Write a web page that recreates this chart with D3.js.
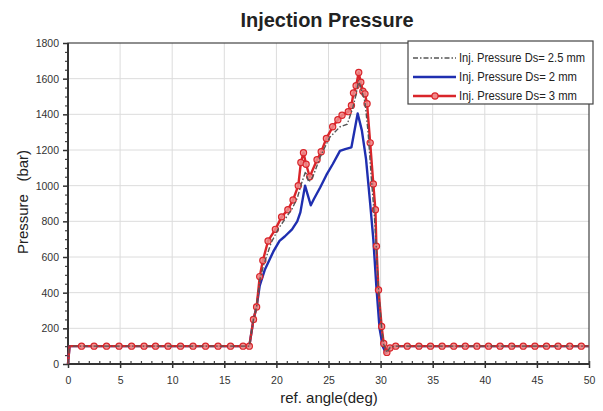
<!DOCTYPE html>
<html>
<head>
<meta charset="utf-8">
<script src="https://cdn.jsdelivr.net/npm/d3@7"></script>
<style>
  html, body { margin: 0; padding: 0; background: #fff; }
  svg { display: block; font-family: "Liberation Sans", Arial, sans-serif; }
</style>
</head>
<body>
<svg id="chart" width="603" height="411"></svg>
<script>
// Injection pressure vs reference crank angle for three nozzle sizes
const xTicks = [0, 5, 10, 15, 20, 25, 30, 35, 40, 45, 50];
const yTicks = [0, 200, 400, 600, 800, 1000, 1200, 1400, 1600, 1800];

const seriesNames = ["Inj. Pressure Ds= 2.5 mm", "Inj. Pressure Ds= 2 mm", "Inj. Pressure Ds= 3 mm"];

// Ds = 2.5 mm
const angle25 = [0, 0.15, 17.4, 17.8, 18.1, 18.4, 18.8, 19.5, 20.2, 20.8, 21.5, 22.0, 22.4, 22.8, 23.1, 23.5, 24.2, 25.1, 26.1, 26.8, 27.3, 27.6, 27.9, 28.2, 28.5, 28.8, 29.1, 29.4, 29.6, 29.8, 30.1, 30.3, 30.6, 30.9, 31.4, 50];
const press25 = [0, 100, 100, 250, 320, 470, 560, 680, 760, 810, 870, 930, 1010, 1080, 1020, 1050, 1160, 1270, 1330, 1345, 1430, 1500, 1590, 1530, 1470, 1300, 1050, 830, 640, 420, 200, 110, 65, 92, 100, 100];

// Ds = 2 mm
const angle2 = [0, 0.15, 17.4, 17.8, 18.1, 18.4, 18.9, 19.7, 20.3, 20.8, 21.5, 22.0, 22.3, 22.75, 23.0, 23.3, 23.6, 24.2, 24.8, 25.4, 26.1, 26.6, 27.2, 27.8, 28.2, 28.6, 29.0, 29.3, 29.6, 29.9, 30.2, 30.5, 30.9, 31.4, 50];
const press2 = [0, 100, 100, 250, 320, 440, 530, 630, 690, 715, 755, 800, 850, 1000, 950, 890, 925, 990, 1060, 1120, 1195, 1205, 1215, 1405, 1310, 1150, 900, 700, 430, 200, 100, 62, 95, 100, 100];

// Ds = 3 mm (marked series)
const angle3 = [0, 0.15, 1.3, 2.5, 3.7, 4.9, 6.1, 7.3, 8.4, 9.6, 10.8, 12.0, 13.2, 14.4, 15.6, 16.8, 17.4, 17.8, 18.1, 18.4, 18.7, 19.2, 19.9, 20.5, 21.1, 21.6, 22.1, 22.35, 22.6, 22.85, 23.2, 23.9, 24.3, 24.8, 25.4, 25.9, 26.3, 26.9, 27.2, 27.4, 27.65, 27.9, 28.1, 28.3, 28.5, 28.7, 29.0, 29.3, 29.5, 29.6, 29.8, 30.1, 30.3, 30.6, 30.9, 31.45, 32.56, 33.68, 34.79, 35.9, 37.02, 38.13, 39.24, 40.36, 41.47, 42.58, 43.69, 44.81, 45.92, 47.03, 48.15, 49.26, 50];
const press3 = [0, 100, 100, 100, 100, 100, 100, 100, 100, 100, 100, 100, 100, 100, 100, 100, 100, 250, 320, 490, 580, 690, 755, 825, 865, 920, 1000, 1130, 1185, 1120, 1050, 1145, 1190, 1265, 1330, 1370, 1395, 1415, 1450, 1520, 1560, 1635, 1580, 1530, 1515, 1460, 1240, 1010, 865, 660, 415, 210, 115, 65, 90, 100, 100, 100, 100, 100, 100, 100, 100, 100, 100, 100, 100, 100, 100, 100, 100, 100, 100];

const svg = d3.select("#chart");
const x = d3.scaleLinear().domain([0, 50]).range([68, 589]);
const y = d3.scaleLinear().domain([0, 1800]).range([364, 43]);

// grid
svg.append("g").selectAll("line").data(xTicks.slice(1, -1)).join("line")
  .attr("x1", d => x(d)).attr("x2", d => x(d)).attr("y1", y(0)).attr("y2", y(1800))
  .attr("stroke", "#dcdcdc").attr("stroke-width", 1);
svg.append("g").selectAll("line").data(yTicks.slice(1, -1)).join("line")
  .attr("x1", x(0)).attr("x2", x(50)).attr("y1", d => y(d)).attr("y2", d => y(d))
  .attr("stroke", "#dcdcdc").attr("stroke-width", 1);

// axes
const xAxis = svg.append("g").attr("transform", `translate(0,${y(0)})`)
  .call(d3.axisBottom(x).tickValues(xTicks).tickSize(4).tickPadding(9).tickFormat(d3.format("d")));
const xMinor = svg.append("g").attr("transform", `translate(0,${y(0)})`)
  .call(d3.axisBottom(x).tickValues(d3.range(0, 51, 1).filter(v => v % 5 !== 0)).tickSize(-3).tickFormat(""));
const yAxis = svg.append("g").attr("transform", `translate(${x(0)},0)`)
  .call(d3.axisLeft(y).tickValues(yTicks).tickSize(5).tickPadding(4).tickFormat(d3.format("d")));
const yMinor = svg.append("g").attr("transform", `translate(${x(0)},0)`)
  .call(d3.axisLeft(y).tickValues(d3.range(0, 1801, 50).filter(v => v % 200 !== 0)).tickSize(3).tickFormat(""));

[xAxis, yAxis].forEach(g => {
  g.select(".domain").remove();
  g.selectAll(".tick line").attr("stroke", "#333").attr("stroke-width", 1.5);
  g.selectAll(".tick text").attr("fill", "#333").attr("font-size", 10.5);
});
xAxis.selectAll(".tick line").attr("y1", -3);
[xMinor, yMinor].forEach(g => {
  g.select(".domain").remove();
  g.selectAll(".tick line").attr("stroke", "#444").attr("stroke-width", 1.2);
});

// frame
svg.append("rect").attr("x", x(0)).attr("y", y(1800))
  .attr("width", x(50) - x(0)).attr("height", y(0) - y(1800))
  .attr("fill", "none").attr("stroke", "#444").attr("stroke-width", 1.2);
svg.append("line").attr("x1", x(0)).attr("x2", x(0)).attr("y1", y(0)).attr("y2", y(1800))
  .attr("stroke", "#333").attr("stroke-width", 2);
svg.append("line").attr("x1", x(0)).attr("x2", x(50)).attr("y1", y(0)).attr("y2", y(0))
  .attr("stroke", "#333").attr("stroke-width", 2);

// series
const line = d3.line().x(d => x(d[0])).y(d => y(d[1]));
const pts = (a, p) => a.map((v, i) => [v, p[i]]);

const red = "#d9252a";
svg.append("path").datum(pts(angle2, press2)).attr("d", line)
  .attr("fill", "none").attr("stroke", "#1f2fb0").attr("stroke-width", 2.4).attr("stroke-linejoin", "round");
svg.append("path").datum(pts(angle3, press3)).attr("d", line)
  .attr("fill", "none").attr("stroke", red).attr("stroke-width", 2.4).attr("stroke-linejoin", "round");
svg.append("g").selectAll("circle").data(pts(angle3, press3).slice(2, -1)).join("circle")
  .attr("cx", d => x(d[0])).attr("cy", d => y(d[1])).attr("r", 3.1)
  .attr("fill", "#f08a8a").attr("fill-opacity", 0.85).attr("stroke", red).attr("stroke-width", 1.2);
svg.append("path").datum(pts(angle25, press25)).attr("d", line)
  .attr("fill", "none").attr("stroke", "#555").attr("stroke-width", 1.4)
  .attr("stroke-dasharray", "5,2,1.5,2");

// legend
const lg = svg.append("g");
lg.append("rect").attr("x", 408).attr("y", 41).attr("width", 185).attr("height", 63)
  .attr("fill", "#fff").attr("stroke", "#444").attr("stroke-width", 1.2);
const legendStyles = [
  { stroke: "#555", width: 1.4, dash: "5,2,1.5,2", marker: false, len: 126 },
  { stroke: "#1f2fb0", width: 2.4, dash: null, marker: false, len: 118 },
  { stroke: red, width: 2.4, dash: null, marker: true, len: 118 }
];
seriesNames.forEach((name, i) => {
  const cy = 58 + i * 19;
  const s = legendStyles[i];
  lg.append("line").attr("x1", 413).attr("x2", 456).attr("y1", cy).attr("y2", cy)
    .attr("stroke", s.stroke).attr("stroke-width", s.width).attr("stroke-dasharray", s.dash);
  if (s.marker) {
    lg.append("circle").attr("cx", 435).attr("cy", cy).attr("r", 3.1)
      .attr("fill", "#f08a8a").attr("stroke", red).attr("stroke-width", 1.2);
  }
  lg.append("text").attr("x", 459).attr("y", cy + 4).attr("font-size", 12)
    .attr("textLength", s.len).attr("lengthAdjust", "spacingAndGlyphs")
    .attr("fill", "#222").text(name);
});

// titles
svg.append("text").attr("x", 327).attr("y", 27).attr("text-anchor", "middle")
  .attr("font-size", 20).attr("font-weight", "bold").attr("fill", "#222")
  .attr("textLength", 173).attr("lengthAdjust", "spacingAndGlyphs").text("Injection Pressure");
svg.append("text").attr("x", 329).attr("y", 403).attr("text-anchor", "middle")
  .attr("font-size", 15).attr("fill", "#222").text("ref. angle(deg)");
svg.append("text").attr("transform", "translate(28,202) rotate(-90)").attr("text-anchor", "middle")
  .attr("font-size", 15).attr("fill", "#222").style("white-space", "pre").text("Pressure   (bar)");
</script>
</body>
</html>
